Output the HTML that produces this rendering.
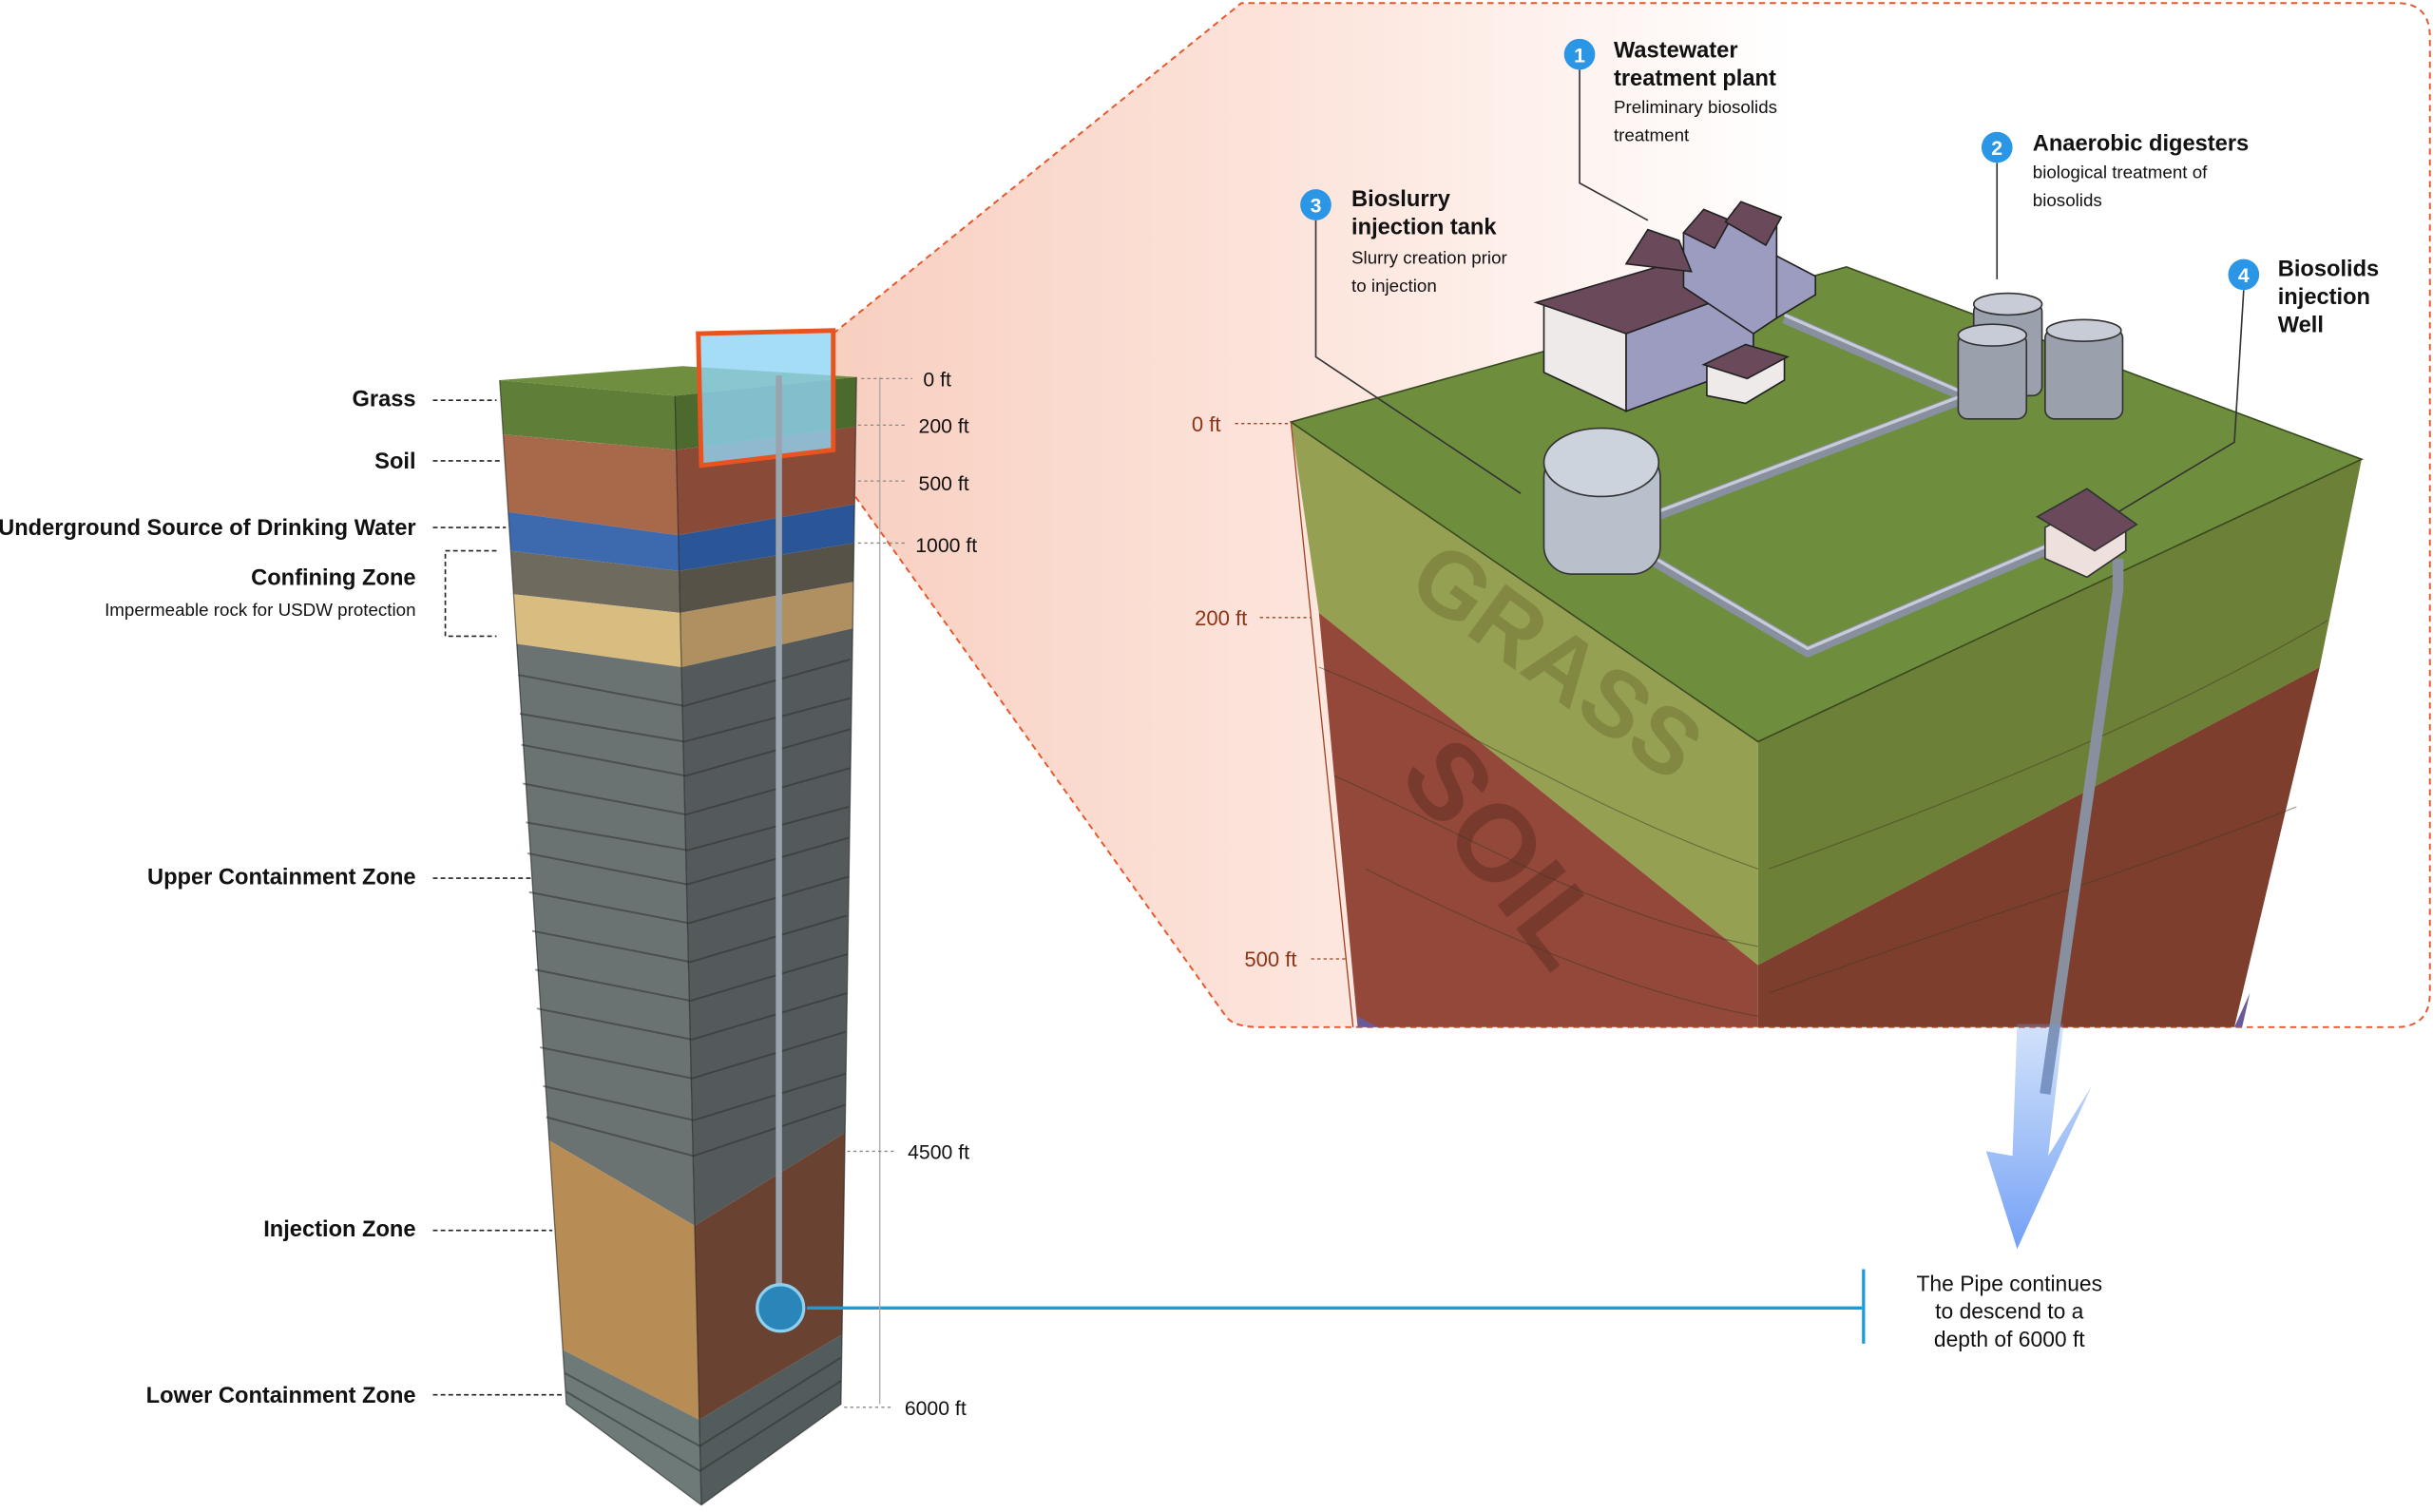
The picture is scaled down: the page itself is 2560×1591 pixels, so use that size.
<!DOCTYPE html>
<html><head><meta charset="utf-8">
<style>
html,body{margin:0;padding:0;background:#fff;}
svg{display:block;}
text{font-family:"Liberation Sans",sans-serif;}
</style></head><body>
<svg width="2560" height="1591" viewBox="0 0 1568 974.5" preserveAspectRatio="none" xmlns="http://www.w3.org/2000/svg">
<defs>
<linearGradient id="pk" x1="0" y1="0" x2="1" y2="0">
<stop offset="0" stop-color="#f8cfc0"/><stop offset="0.35" stop-color="#fde9e2"/><stop offset="0.6" stop-color="#ffffff"/>
</linearGradient>
<linearGradient id="arr" x1="0" y1="0" x2="0" y2="1">
<stop offset="0" stop-color="#6a9ef0" stop-opacity="0.3"/><stop offset="1" stop-color="#5b8ff5" stop-opacity="0.85"/>
</linearGradient>
</defs>

<path d="M537,215 L800,2 L1545,2 Q1566,2 1566,24 L1566,640 Q1566,662 1544,662 L812,662 Q795,662 790,655 L537,300 Z" fill="url(#pk)" stroke="none"/>
<path d="M537,215 L800,2 L1545,2 Q1566,2 1566,24 L1566,640 Q1566,662 1544,662 L812,662 Q795,662 790,655 L537,300" fill="none" stroke="#e8552a" stroke-width="1.2" stroke-dasharray="4,3"/>

<polygon points="832,272 1133,478 1133,622 850,395" fill="#96a052"/>
<polygon points="850,395 1133,622 1133,662 875,662" fill="#93483a"/>
<polygon points="1133,478 1522,296 1495,430 1133,622" fill="#6d8038"/>
<polygon points="1133,622 1495,430 1440,662 1133,662" fill="#7e3e2e"/>
<polygon points="1440,662 1450,640 1445,662" fill="#6a5a9a"/>
<polygon points="875,655 888,662 875,662" fill="#6a5a9a"/>
<polygon points="832,272 1190,172 1522,296 1133,478" fill="#6e8e3e"/>
<polygon points="832,272 1190,172 1522,296 1133,478" fill="none" stroke="#3a4a20" stroke-width="1"/>
<text x="0" y="0" transform="translate(905,380) rotate(36)" font-size="60" font-weight="bold" fill="#6a6a30" opacity="0.45">GRASS</text>
<text x="0" y="0" transform="translate(900,500) rotate(52)" font-size="70" font-weight="bold" fill="#5a2a20" opacity="0.45">SOIL</text>
<path d="M850,430 C950,470 1020,520 1133,560 M860,500 C950,540 1030,590 1133,610 M1140,560 C1250,520 1380,470 1500,400 M880,560 C960,600 1050,640 1133,655 M1140,640 C1250,600 1380,560 1480,520" stroke="#3a3a20" stroke-width="0.7" fill="none" opacity="0.5"/>

<g stroke="#8890a0" stroke-width="7" fill="none" stroke-linejoin="round">
<polyline points="1150,205 1265,255"/>
<polyline points="1270,255 1060,335"/>
<polyline points="1055,355 1165,420 1340,345"/>
<polyline points="1365,360 1365,380 1318,705"/>
</g>
<g stroke="#c8ccd8" stroke-width="2" fill="none">
<polyline points="1150,203 1265,253"/>
<polyline points="1270,253 1060,333"/>
<polyline points="1055,353 1165,418 1340,343"/>
</g>
<polygon points="1300,660 1330,660 1320,745 1348,700 1300,805 1280,742 1297,745" fill="url(#arr)"/>

<polygon points="995,195 995,240 1048,265 1048,215" fill="#eeeaea" stroke="#222" stroke-width="1"/>
<polygon points="1048,215 1048,265 1130,235 1130,185" fill="#9c9cc0" stroke="#222" stroke-width="1"/>
<polygon points="990,195 1048,215 1130,185 1075,170" fill="#6a4a5a" stroke="#222" stroke-width="1"/>
<polygon points="1085,185 1085,150 1100,140 1110,150 1118,135 1130,145 1145,140 1145,205 1130,215" fill="#9c9cc0" stroke="#222" stroke-width="1"/>
<polygon points="1048,170 1062,148 1082,155 1090,175" fill="#6a4a5a" stroke="#222" stroke-width="1"/>
<polygon points="1085,150 1098,135 1115,142 1105,160" fill="#6a4a5a" stroke="#222" stroke-width="1"/>
<polygon points="1112,143 1122,130 1148,140 1138,158" fill="#6a4a5a" stroke="#222" stroke-width="1"/>
<polygon points="1145,165 1145,205 1170,190 1170,178" fill="#9c9cc0" stroke="#222" stroke-width="1"/>
<polygon points="1100,235 1100,255 1125,260 1150,245 1150,230 1125,225" fill="#eeeaea" stroke="#222" stroke-width="1"/>
<polygon points="1098,235 1125,222 1152,230 1126,244" fill="#6a4a5a" stroke="#222" stroke-width="1"/>
<g stroke="#333" stroke-width="1" fill="#9aa0ac">
<rect x="1272" y="195" width="44" height="60" rx="6"/>
<ellipse cx="1294" cy="196" rx="22" ry="7" fill="#c8ccd6"/>
<rect x="1262" y="215" width="44" height="55" rx="6"/>
<ellipse cx="1284" cy="216" rx="22" ry="7" fill="#c8ccd6"/>
<rect x="1318" y="212" width="50" height="58" rx="6"/>
<ellipse cx="1343" cy="213" rx="24" ry="7" fill="#c8ccd6"/>
</g>
<rect x="995" y="290" width="75" height="80" rx="18" fill="#b8c0cc" stroke="#333" stroke-width="1"/>
<ellipse cx="1032" cy="298" rx="37" ry="22" fill="#ccd3dc" stroke="#333" stroke-width="1"/>
<polygon points="1318,340 1318,360 1345,372 1370,355 1370,335 1345,325" fill="#eee0dc" stroke="#333" stroke-width="1"/>
<polygon points="1313,333 1345,315 1377,338 1350,355" fill="#6a4a5a" stroke="#333" stroke-width="1"/>

<g stroke="#333" stroke-width="1" fill="none">
<polyline points="1018,45 1018,118 1062,142"/>
<polyline points="1287,105 1287,180"/>
<polyline points="848,142 848,230 980,318"/>
<polyline points="1446,187 1440,285 1365,330"/>
</g>
<g font-size="13" fill="#fff" font-weight="bold" text-anchor="middle">
<circle cx="1018" cy="35" r="10" fill="#2b95e6"/><text x="1018" y="40">1</text>
<circle cx="1287" cy="95" r="10" fill="#2b95e6"/><text x="1287" y="100">2</text>
<circle cx="848" cy="132" r="10" fill="#2b95e6"/><text x="848" y="137">3</text>
<circle cx="1446" cy="177" r="10" fill="#2b95e6"/><text x="1446" y="182">4</text>
</g>
<g fill="#111">
<text x="1040" y="37" font-size="14.5" font-weight="bold">Wastewater</text>
<text x="1040" y="55" font-size="14.5" font-weight="bold">treatment plant</text>
<text x="1040" y="73" font-size="11.5">Preliminary biosolids</text>
<text x="1040" y="91" font-size="11.5">treatment</text>
<text x="1310" y="97" font-size="14.5" font-weight="bold">Anaerobic digesters</text>
<text x="1310" y="115" font-size="11.5">biological treatment of</text>
<text x="1310" y="133" font-size="11.5">biosolids</text>
<text x="871" y="133" font-size="14.5" font-weight="bold">Bioslurry</text>
<text x="871" y="151" font-size="14.5" font-weight="bold">injection tank</text>
<text x="871" y="170" font-size="11.5">Slurry creation prior</text>
<text x="871" y="188" font-size="11.5">to injection</text>
<text x="1468" y="178" font-size="14.5" font-weight="bold">Biosolids</text>
<text x="1468" y="196" font-size="14.5" font-weight="bold">injection</text>
<text x="1468" y="214" font-size="14.5" font-weight="bold">Well</text>
</g>
<line x1="832" y1="272" x2="872" y2="662" stroke="#a04020" stroke-width="0.8"/>
<g stroke="#a04020" stroke-width="0.8" stroke-dasharray="2,2">
<line x1="796" y1="273" x2="832" y2="273"/><line x1="812" y1="398" x2="845" y2="398"/><line x1="845" y1="618" x2="868" y2="618"/>
</g>
<g fill="#8a3418" font-size="13.5">
<text x="768" y="278">0 ft</text><text x="770" y="403">200 ft</text><text x="802" y="623">500 ft</text>
</g>

<polygon points="322,245 324.3,280 436,290 435,255" fill="#5f7e38"/>
<polygon points="324.3,280 327.5,330 437.1,345 435.8,290" fill="#a8684a"/>
<polygon points="327.5,330 329.2,355 437.7,368 437.1,345" fill="#3d6aae"/>
<polygon points="329.2,355 331,383 438.3,395 437.7,368" fill="#6f6a5e"/>
<polygon points="331,383 333,415 439.2,430 438.3,395" fill="#d9bc80"/>
<polygon points="333,415 353.9,735 447.7,790 439.2,430" fill="#6b7272"/>
<polygon points="353.9,735 362.7,870 450.6,915 447.7,790" fill="#b88d55"/>
<polygon points="362.7,870 365,905 452,970 450.6,915" fill="#6d7a78"/>
<polygon points="435,255 435.8,290 551.5,275 552,243" fill="#4d6a2e"/>
<polygon points="435.8,290 437.1,345 550.8,325 551.5,275" fill="#8a4a38"/>
<polygon points="437.1,345 437.7,368 550.4,350 550.8,325" fill="#2a5596"/>
<polygon points="437.7,368 438.3,395 550,375 550.4,350" fill="#565248"/>
<polygon points="438.3,395 439.2,430 549.6,405 550,375" fill="#b09060"/>
<polygon points="439.2,430 447.7,790 544.6,730 549.6,405" fill="#545a5c"/>
<polygon points="447.7,790 450.6,915 542.7,860 544.6,730" fill="#6a4232"/>
<polygon points="450.6,915 452,970 542,905 542.7,860" fill="#525c5c"/>
<g stroke="#2a2c2c" stroke-width="1.2" opacity="0.5" fill="none">
<path d="M334,435 L441,455 L548,425 M335,460 L441,478 L548,450 M336,480 L442,500 L548,470 M337,505 L442,525 L548,495 M339,530 L443,548 L547,520 M340,550 L443,570 L547,540 M341,575 L444,595 L547,565 M343,600 L445,620 L546,590 M345,625 L445,645 L546,615 M346,650 L446,670 L546,640 M348,675 L446,695 L545,665 M350,700 L447,722 L545,692 M352,720 L447,745 L545,712"/>
<path d="M364,885 L451,932 L542,875 M365,897 L451,948 L542,890"/>
</g>
<g stroke="#222" stroke-width="0.8" fill="none" opacity="0.6">
<polyline points="322,245 365,905 452,970 542,905 552,243"/>
<line x1="435" y1="255" x2="452" y2="970"/>
</g>
<polygon points="322,245 435,255 552,243 440,236" fill="#6f8e40"/>
<polygon points="450,215 537,213 537,290 452,300" fill="#8fd4f4" fill-opacity="0.8" stroke="#e8531f" stroke-width="3"/>
<line x1="502" y1="242" x2="502" y2="830" stroke="#9aa4ae" stroke-width="4"/>
<line x1="520" y1="843" x2="1200" y2="843" stroke="#1a9be0" stroke-width="2"/>
<line x1="1201" y1="818" x2="1201" y2="866" stroke="#1a9be0" stroke-width="2"/>
<circle cx="503" cy="843" r="15" fill="#2a86b8" stroke="#8fd0ee" stroke-width="2"/>

<g font-size="14.5" font-weight="bold" fill="#111" text-anchor="end">
<text x="268" y="262">Grass</text>
<text x="268" y="302">Soil</text>
<text x="268" y="345">Underground Source of Drinking Water</text>
<text x="268" y="377">Confining Zone</text>
<text x="268" y="570">Upper Containment Zone</text>
<text x="268" y="797">Injection Zone</text>
<text x="268" y="904">Lower Containment Zone</text>
</g>
<text x="268" y="397" font-size="11.5" fill="#111" text-anchor="end">Impermeable rock for USDW protection</text>
<g stroke="#222" stroke-width="1" stroke-dasharray="3,2" fill="none">
<line x1="279" y1="258" x2="320" y2="258"/>
<line x1="279" y1="297" x2="323" y2="297"/>
<line x1="279" y1="340" x2="326" y2="340"/>
<polyline points="320,355 287,355 287,410 320,410"/>
<line x1="279" y1="566" x2="342" y2="566"/>
<line x1="279" y1="793" x2="356" y2="793"/>
<line x1="279" y1="899" x2="362" y2="899"/>
</g>
<line x1="567" y1="243" x2="567" y2="905" stroke="#aaa" stroke-width="0.8"/>
<g stroke="#888" stroke-width="0.8" stroke-dasharray="2,2">
<line x1="555" y1="244" x2="588" y2="244"/><line x1="553" y1="274" x2="585" y2="274"/>
<line x1="553" y1="310" x2="585" y2="310"/><line x1="553" y1="350" x2="583" y2="350"/>
<line x1="546" y1="742" x2="578" y2="742"/><line x1="544" y1="907" x2="576" y2="907"/>
</g>
<g font-size="13" fill="#111">
<text x="595" y="249">0 ft</text><text x="592" y="279">200 ft</text><text x="592" y="316">500 ft</text>
<text x="590" y="356">1000 ft</text><text x="585" y="747">4500 ft</text><text x="583" y="912">6000 ft</text>
</g>
<g font-size="14" fill="#111" text-anchor="middle">
<text x="1295" y="832">The Pipe continues</text>
<text x="1295" y="850">to descend to a</text>
<text x="1295" y="868">depth of 6000 ft</text>
</g>
</svg>
</body></html>
